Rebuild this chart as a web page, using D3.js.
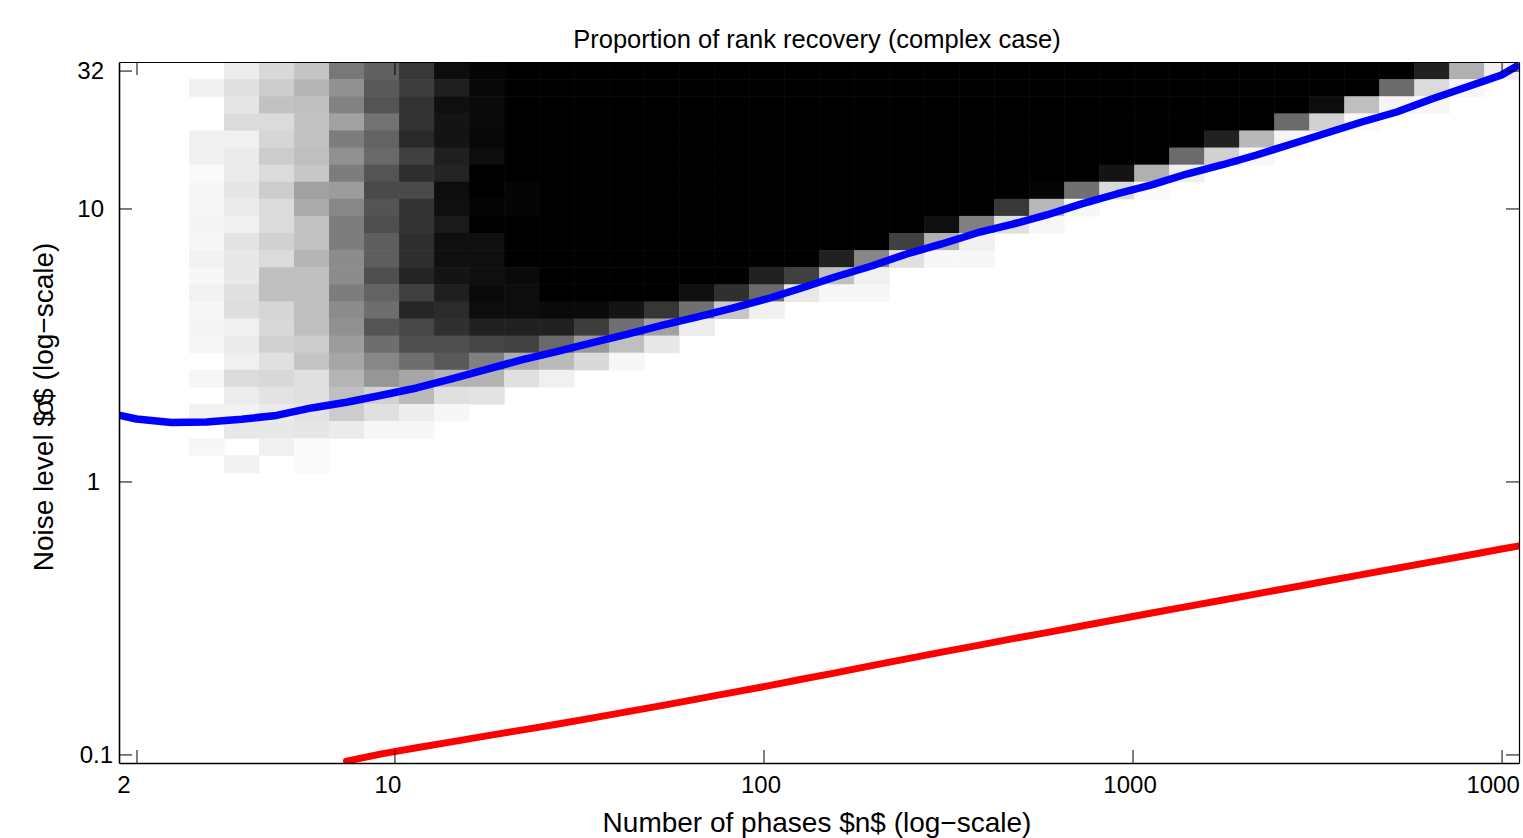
<!DOCTYPE html>
<html>
<head>
<meta charset="utf-8">
<script src="https://cdn.jsdelivr.net/npm/d3@7"></script>
<style>
  body { margin: 0; background: #fff; }
  svg { display: block; font-family: "Liberation Sans", Arial, Helvetica, sans-serif; }
</style>
</head>
<body>
<div id="chart"></div>
<script>
// ---- data -----------------------------------------------------------------

// number of phases n (columns of the image, log spaced 2 .. 10000)
const N_GRID = [2, 2.488, 3.096, 3.851, 4.791, 5.961, 7.416, 9.226, 11.48, 14.28,
                17.77, 22.10, 27.50, 34.21, 42.56, 52.95, 65.88, 81.96, 101.97, 126.86,
                157.8, 196.3, 244.3, 303.9, 378.1, 470.4, 585.2, 728.1, 905.8, 1126.9,
                1401.9, 1744.1, 2169.8, 2699.4, 3358.3, 4178.1, 5197.9, 6466.8, 8045.3, 10000];

// noise level sigma (rows of the image, bottom to top, 0.1 .. 32)
const SIGMA_GRID = [0.1, 0.11551, 0.13342, 0.15412, 0.17802, 0.20563, 0.23752, 0.27437, 0.31693, 0.36608,
                    0.42287, 0.48846, 0.56422, 0.65173, 0.75282, 0.86958, 1.00477, 1.16066, 1.34068, 1.54862,
                    1.78885, 2.06631, 2.38680, 2.75700, 3.18463, 3.67857, 4.24913, 4.90820, 5.66946, 6.54882,
                    7.56454, 8.73782, 10.0955, 11.6582, 13.4664, 15.5552, 17.9678, 20.7547, 23.9737, 27.6921, 32];

// proportion of rank recovery, one row per sigma, top row = sigma 32
const RECOVERY = [
  [0,0,0,.07,.15,.23,.53,.62,.78,.95,  .98,1,1,1,1,1,1,1,1,1,  1,1,1,1,1,1,1,1,1,1,  1,1,1,1,1,1,1,.87,.31,.06],
  [0,0,.06,.12,.2,.29,.43,.65,.76,.88,  .97,1,1,1,1,1,1,1,1,1,  1,1,1,1,1,1,1,1,1,1,  1,1,1,1,1,1,.58,.14,.03,0],
  [0,0,0,.1,.24,.25,.49,.67,.8,.94,  .96,1,1,1,1,1,1,1,1,1,  1,1,1,1,1,1,1,1,1,1,  1,1,1,1,.95,.25,.04,.03,0,0],
  [0,0,0,.14,.14,.24,.37,.55,.8,.92,  .96,1,1,1,1,1,1,1,1,1,  1,1,1,1,1,1,1,1,1,1,  1,1,1,.58,.18,.02,0,0,0,0],
  [0,0,.06,.06,.16,.24,.51,.61,.84,.92,  .97,1,1,1,1,1,1,1,1,1,  1,1,1,1,1,1,1,1,1,1,  1,.87,.28,.04,0,0,0,0,0,0],
  [0,0,.06,.08,.2,.25,.43,.59,.75,.88,  .95,1,1,1,1,1,1,1,1,1,  1,1,1,1,1,1,1,1,1,1,  .58,.18,.03,0,0,0,0,0,0,0],
  [0,0,.02,.08,.14,.22,.51,.67,.82,.86,  1,1,1,1,1,1,1,1,1,1,  1,1,1,1,1,1,1,1,.92,.31,  .06,0,0,0,0,0,0,0,0,0],
  [0,0,.03,.1,.2,.37,.39,.71,.71,.95,  1,.98,1,1,1,1,1,1,1,1,  1,1,1,1,1,1,.98,.56,.15,.02,  0,0,0,0,0,0,0,0,0,0],
  [0,0,.03,.08,.14,.33,.47,.67,.8,.94,  .98,.98,1,1,1,1,1,1,1,1,  1,1,1,1,1,.78,.28,.03,0,0,  0,0,0,0,0,0,0,0,0,0],
  [0,0,.04,.06,.14,.24,.51,.69,.8,.9,  1,1,1,1,1,1,1,1,1,1,  1,1,1,.94,.5,.12,.03,0,0,0,  0,0,0,0,0,0,0,0,0,0],
  [0,0,.03,.11,.18,.24,.51,.63,.82,.94,  .94,1,1,1,1,1,1,1,1,1,  1,1,.75,.31,.06,0,0,0,0,0,  0,0,0,0,0,0,0,0,0,0],
  [0,0,.05,.09,.14,.29,.45,.63,.82,.94,  .94,1,1,1,1,1,1,1,1,1,  .87,.47,.12,.03,.03,0,0,0,0,0,  0,0,0,0,0,0,0,0,0,0],
  [0,0,.03,.09,.25,.25,.45,.69,.86,.92,  .94,.96,1,1,1,1,1,1,.87,.75,  .25,.06,0,0,0,0,0,0,0,0,  0,0,0,0,0,0,0,0,0,0],
  [0,0,.05,.12,.25,.25,.51,.61,.75,.88,  .96,.95,1,1,1,1,.94,.81,.58,.09,  .03,.03,0,0,0,0,0,0,0,0,  0,0,0,0,0,0,0,0,0,0],
  [0,0,.03,.13,.16,.25,.45,.57,.85,.83,  .95,.95,.96,.96,.92,.79,.56,.22,.06,0,  0,0,0,0,0,0,0,0,0,0,  0,0,0,0,0,0,0,0,0,0],
  [0,0,.04,.06,.15,.25,.43,.67,.72,.81,  .87,.87,.87,.76,.56,.37,.07,0,0,0,  0,0,0,0,0,0,0,0,0,0,  0,0,0,0,0,0,0,0,0,0],
  [0,0,.03,.08,.18,.2,.39,.57,.69,.69,  .73,.74,.59,.4,.25,.09,0,0,0,0,  0,0,0,0,0,0,0,0,0,0,  0,0,0,0,0,0,0,0,0,0],
  [0,0,0,.06,.12,.23,.35,.47,.57,.65,  .5,.33,.27,.15,.03,0,0,0,0,0,  0,0,0,0,0,0,0,0,0,0,  0,0,0,0,0,0,0,0,0,0],
  [0,0,.03,.14,.15,.12,.29,.41,.35,.3,  .3,.12,.06,0,0,0,0,0,0,0,  0,0,0,0,0,0,0,0,0,0,  0,0,0,0,0,0,0,0,0,0],
  [0,0,0,.07,.11,.12,.25,.18,.27,.12,  .11,0,0,0,0,0,0,0,0,0,  0,0,0,0,0,0,0,0,0,0,  0,0,0,0,0,0,0,0,0,0],
  [0,0,.05,.05,.08,.11,.2,.12,.07,.03,  0,0,0,0,0,0,0,0,0,0,  0,0,0,0,0,0,0,0,0,0,  0,0,0,0,0,0,0,0,0,0],
  [0,0,0,.09,.09,.1,.08,.03,.03,0,  0,0,0,0,0,0,0,0,0,0,  0,0,0,0,0,0,0,0,0,0,  0,0,0,0,0,0,0,0,0,0],
  [0,0,.03,0,.06,.02,0,0,0,0,  0,0,0,0,0,0,0,0,0,0,  0,0,0,0,0,0,0,0,0,0,  0,0,0,0,0,0,0,0,0,0],
  [0,0,0,.05,0,.02,0,0,0,0,  0,0,0,0,0,0,0,0,0,0,  0,0,0,0,0,0,0,0,0,0,  0,0,0,0,0,0,0,0,0,0],
  [0,0,0,0,0,0,0,0,0,0,  0,0,0,0,0,0,0,0,0,0,  0,0,0,0,0,0,0,0,0,0,  0,0,0,0,0,0,0,0,0,0],
  [0,0,0,0,0,0,0,0,0,0,  0,0,0,0,0,0,0,0,0,0,  0,0,0,0,0,0,0,0,0,0,  0,0,0,0,0,0,0,0,0,0],
  [0,0,0,0,0,0,0,0,0,0,  0,0,0,0,0,0,0,0,0,0,  0,0,0,0,0,0,0,0,0,0,  0,0,0,0,0,0,0,0,0,0],
  [0,0,0,0,0,0,0,0,0,0,  0,0,0,0,0,0,0,0,0,0,  0,0,0,0,0,0,0,0,0,0,  0,0,0,0,0,0,0,0,0,0],
  [0,0,0,0,0,0,0,0,0,0,  0,0,0,0,0,0,0,0,0,0,  0,0,0,0,0,0,0,0,0,0,  0,0,0,0,0,0,0,0,0,0],
  [0,0,0,0,0,0,0,0,0,0,  0,0,0,0,0,0,0,0,0,0,  0,0,0,0,0,0,0,0,0,0,  0,0,0,0,0,0,0,0,0,0],
  [0,0,0,0,0,0,0,0,0,0,  0,0,0,0,0,0,0,0,0,0,  0,0,0,0,0,0,0,0,0,0,  0,0,0,0,0,0,0,0,0,0],
  [0,0,0,0,0,0,0,0,0,0,  0,0,0,0,0,0,0,0,0,0,  0,0,0,0,0,0,0,0,0,0,  0,0,0,0,0,0,0,0,0,0],
  [0,0,0,0,0,0,0,0,0,0,  0,0,0,0,0,0,0,0,0,0,  0,0,0,0,0,0,0,0,0,0,  0,0,0,0,0,0,0,0,0,0],
  [0,0,0,0,0,0,0,0,0,0,  0,0,0,0,0,0,0,0,0,0,  0,0,0,0,0,0,0,0,0,0,  0,0,0,0,0,0,0,0,0,0],
  [0,0,0,0,0,0,0,0,0,0,  0,0,0,0,0,0,0,0,0,0,  0,0,0,0,0,0,0,0,0,0,  0,0,0,0,0,0,0,0,0,0],
  [0,0,0,0,0,0,0,0,0,0,  0,0,0,0,0,0,0,0,0,0,  0,0,0,0,0,0,0,0,0,0,  0,0,0,0,0,0,0,0,0,0],
  [0,0,0,0,0,0,0,0,0,0,  0,0,0,0,0,0,0,0,0,0,  0,0,0,0,0,0,0,0,0,0,  0,0,0,0,0,0,0,0,0,0],
  [0,0,0,0,0,0,0,0,0,0,  0,0,0,0,0,0,0,0,0,0,  0,0,0,0,0,0,0,0,0,0,  0,0,0,0,0,0,0,0,0,0],
  [0,0,0,0,0,0,0,0,0,0,  0,0,0,0,0,0,0,0,0,0,  0,0,0,0,0,0,0,0,0,0,  0,0,0,0,0,0,0,0,0,0],
  [0,0,0,0,0,0,0,0,0,0,  0,0,0,0,0,0,0,0,0,0,  0,0,0,0,0,0,0,0,0,0,  0,0,0,0,0,0,0,0,0,0],
  [0,0,0,0,0,0,0,0,0,0,  0,0,0,0,0,0,0,0,0,0,  0,0,0,0,0,0,0,0,0,0,  0,0,0,0,0,0,0,0,0,0]
];

// blue curve (empirical threshold)
const BLUE_N = [1.79, 2, 2.488, 3.096, 3.851, 4.791, 5.961, 7.416, 9.226, 11.48, 14.28,
                17.77, 22.10, 27.50, 34.21, 42.56, 52.95, 65.88, 81.96, 101.97, 126.86,
                157.8, 196.3, 244.3, 303.9, 378.1, 470.4, 585.2, 728.1, 905.8, 1126.9,
                1401.9, 1744.1, 2169.8, 2699.4, 3358.3, 4178.1, 5197.9, 6466.8, 8045.3, 10000, 11154];
const BLUE_SIGMA = [1.75, 1.694, 1.645, 1.651, 1.69, 1.745, 1.859, 1.95, 2.07, 2.2, 2.374,
                    2.572, 2.79, 2.99, 3.216, 3.455, 3.73, 4.0, 4.302, 4.661, 5.114,
                    5.635, 6.156, 6.812, 7.413, 8.133, 8.738, 9.467, 10.39, 11.30, 12.20,
                    13.37, 14.43, 15.70, 17.23, 18.90, 20.74, 22.56, 25.18, 27.86, 30.83, 33.6];

// red curve (theoretical bound)
const RED_N = [7.416, 9.226, 11.48, 14.28, 17.77, 22.10, 27.50, 34.21, 42.56, 52.95,
               65.88, 81.96, 101.97, 126.86, 157.8, 196.3, 244.3, 303.9, 378.1, 470.4,
               585.2, 728.1, 905.8, 1126.9, 1401.9, 1744.1, 2169.8, 2699.4, 3358.3, 4178.1,
               5197.9, 6466.8, 8045.3, 10000, 11154];
const RED_SIGMA = [0.0945, 0.1005, 0.1058, 0.1112, 0.1170, 0.1228, 0.1290, 0.1358, 0.1432, 0.1510,
                   0.1595, 0.1685, 0.1780, 0.1885, 0.1995, 0.2115, 0.2240, 0.2370, 0.2505, 0.2650,
                   0.2795, 0.2955, 0.3120, 0.3296, 0.3479, 0.3672, 0.3875, 0.4090, 0.4317, 0.4557,
                   0.4808, 0.5075, 0.5357, 0.5654, 0.580];

const X_TICKS = [2, 10, 100, 1000, 10000];
const X_TICK_LABELS = ["2", "10", "100", "1000", "1000"];
const Y_TICKS = [0.1, 1, 10, 32];
const Y_TICK_LABELS = ["0.1", "1", "10", "32"];

// ---- layout ---------------------------------------------------------------

const FRAME_WIDTH = 1523;
const FRAME_HEIGHT = 838;
const MARGINS = {left: 119, right: 4, top: 62, bottom: 75};
const VIS_WIDTH = FRAME_WIDTH - MARGINS.left - MARGINS.right;
const VIS_HEIGHT = FRAME_HEIGHT - MARGINS.top - MARGINS.bottom;

const X_LABEL_DX = [-13, -7, -3, -3, -9];   // label nudges as in the original
const Y_LABEL_DX = [9, -4, 0, 0];

RECOVERY.forEach((r, i) => { if (r.length !== N_GRID.length) throw new Error("row " + i + " has " + r.length); });

// cell edges halfway (in log) between grid centres
function edges(grid) {
  const e = [];
  for (let i = 0; i <= grid.length; i++) {
    if (i === 0) e.push(grid[0] / Math.sqrt(grid[1] / grid[0]));
    else if (i === grid.length) e.push(grid[i - 1] * Math.sqrt(grid[i - 1] / grid[i - 2]));
    else e.push(Math.sqrt(grid[i - 1] * grid[i]));
  }
  return e;
}
const X_EDGES = edges(N_GRID);
const Y_EDGES = edges(SIGMA_GRID);

const X_SCALE = d3.scaleLog()
                  .domain([X_EDGES[0], X_EDGES[X_EDGES.length - 1]])
                  .range([0, VIS_WIDTH]);
const Y_SCALE = d3.scaleLog()
                  .domain([Y_EDGES[0], Y_EDGES[Y_EDGES.length - 1]])
                  .range([VIS_HEIGHT, 0]);
const GRAY = d3.scaleLinear().domain([0, 1]).range(["#ffffff", "#000000"]);

const FRAME = d3.select("#chart")
                .append("svg")
                  .attr("width", FRAME_WIDTH)
                  .attr("height", FRAME_HEIGHT);

FRAME.append("defs").append("clipPath").attr("id", "plotclip")
     .append("rect").attr("width", VIS_WIDTH).attr("height", VIS_HEIGHT);

const PLOT = FRAME.append("g")
                  .attr("transform", "translate(" + MARGINS.left + "," + MARGINS.top + ")");

// heat map cells
const cells = [];
RECOVERY.forEach((row, j) => {
  const k = SIGMA_GRID.length - 1 - j;
  row.forEach((p, i) => { if (p > 0) cells.push({i: i, k: k, p: p}); });
});

PLOT.append("g")
    .selectAll("rect")
    .data(cells)
    .enter()
    .append("rect")
      .attr("x", (d) => X_SCALE(X_EDGES[d.i]))
      .attr("y", (d) => Y_SCALE(Y_EDGES[d.k + 1]))
      .attr("width", (d) => X_SCALE(X_EDGES[d.i + 1]) - X_SCALE(X_EDGES[d.i]) + 0.6)
      .attr("height", (d) => Y_SCALE(Y_EDGES[d.k]) - Y_SCALE(Y_EDGES[d.k + 1]) + 0.6)
      .attr("fill", (d) => GRAY(d.p));

// curves
const curve = d3.line()
                .x((d) => X_SCALE(d[0]))
                .y((d) => Y_SCALE(d[1]));

const lines = PLOT.append("g").attr("clip-path", "url(#plotclip)");
lines.append("path")
     .datum(BLUE_N.map((n, i) => [n, BLUE_SIGMA[i]]))
     .attr("d", curve)
     .attr("fill", "none")
     .attr("stroke", "#0000ff")
     .attr("stroke-width", 7.5)
     .attr("stroke-linejoin", "round");
lines.append("path")
     .datum(RED_N.map((n, i) => [n, RED_SIGMA[i]]))
     .attr("d", curve)
     .attr("fill", "none")
     .attr("stroke", "#ff0000")
     .attr("stroke-width", 7)
     .attr("stroke-linejoin", "round")
     .attr("stroke-linecap", "round");

// axes (ticks point inward, box on)
function styleAxis(g, w) {
  g.attr("font-size", "24px")
   .attr("font-family", "'Liberation Sans', Arial, Helvetica, sans-serif");
  g.select(".domain").attr("stroke", "#000").attr("stroke-width", w);
  g.selectAll(".tick line").attr("stroke", "#000").attr("stroke-width", 1);
  g.selectAll(".tick text").attr("fill", "#000");
}

const xBottom = PLOT.append("g")
    .attr("transform", "translate(0," + VIS_HEIGHT + ")")
    .call(d3.axisBottom(X_SCALE).tickValues(X_TICKS)
            .tickFormat((d, i) => X_TICK_LABELS[i])
            .tickSizeInner(-13).tickSizeOuter(0).tickPadding(13));
styleAxis(xBottom, 1.6);
xBottom.selectAll(".tick text").attr("dx", (d, i) => X_LABEL_DX[i]);

const xTop = PLOT.append("g")
    .call(d3.axisTop(X_SCALE).tickValues(X_TICKS).tickFormat("")
            .tickSizeInner(-13).tickSizeOuter(0));
styleAxis(xTop, 1);

const yLeft = PLOT.append("g")
    .call(d3.axisLeft(Y_SCALE).tickValues(Y_TICKS)
            .tickFormat((d, i) => Y_TICK_LABELS[i])
            .tickSizeInner(-13).tickSizeOuter(0).tickPadding(15));
styleAxis(yLeft, 1.6);
yLeft.selectAll(".tick text").attr("dx", (d, i) => Y_LABEL_DX[i]);

const yRight = PLOT.append("g")
    .attr("transform", "translate(" + VIS_WIDTH + ",0)")
    .call(d3.axisRight(Y_SCALE).tickValues(Y_TICKS).tickFormat("")
            .tickSizeInner(-13).tickSizeOuter(0));
styleAxis(yRight, 1.2);

// titles
FRAME.append("text")
     .attr("x", 817)
     .attr("y", 48)
     .attr("text-anchor", "middle")
     .attr("font-size", "25.5px")
     .text("Proportion of rank recovery (complex case)");

FRAME.append("text")
     .attr("x", 817)
     .attr("y", 832)
     .attr("text-anchor", "middle")
     .attr("font-size", "28px")
     .text("Number of phases $n$ (log\u2212scale)");

const yTitle = FRAME.append("text")
     .attr("transform", "translate(53,407) rotate(-90)")
     .attr("text-anchor", "middle")
     .attr("font-size", "28px");
yTitle.append("tspan").text("Noise level $");
yTitle.append("tspan").attr("dx", -5).text("\u03c3");
yTitle.append("tspan").attr("dx", -5).text("$ (log\u2212scale)");

</script>
</body>
</html>
